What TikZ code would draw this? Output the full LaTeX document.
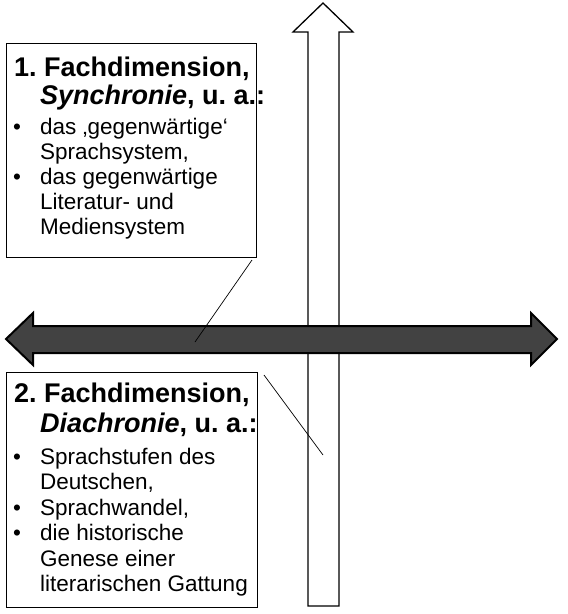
\documentclass[tikz,border=0pt]{standalone}
\usepackage{fontspec}
\setmainfont{Liberation Sans}
\frenchspacing
\definecolor{darkfill}{RGB}{66,66,66}
\tikzset{
  box/.style={draw=black, line width=1pt, fill=white, anchor=north west, inner sep=0pt, outer sep=0pt},
  ttl/.style={anchor=base west, inner sep=0pt, font=\fontsize{27}{30}\selectfont\bfseries},
  bod/.style={anchor=base west, inner sep=0pt, font=\fontsize{22.5}{25}\selectfont},
  leader/.style={draw=black, line width=0.7pt},
  uparrow/.style={draw=black, line width=1.3pt, fill=white, line join=miter},
  dblarrow/.style={draw=black, line width=2pt, fill=darkfill, line join=miter}
}
\begin{document}
\begin{tikzpicture}[x=1pt,y=-1pt]
\useasboundingbox (0,0) rectangle (568,614);
% vertical arrow
\path[uparrow] (323,3) -- (353,32) -- (339,32) -- (339,606) -- (308,606) -- (308,32) -- (293,32) -- cycle;
% horizontal double arrow
\path[dblarrow] (6,339) -- (33,313) -- (33,326) -- (531,326) -- (531,313) -- (557,339) -- (531,365) -- (531,353) -- (33,353) -- (33,365) -- cycle;
% box 1
\node[box, minimum width=250pt, minimum height=214pt] (box1) at (6,43) {};
\node[ttl] (t1a) at (14,76) {1. Fachdimension,};
\node[ttl] (t1b) at (40,104) {\textit{Synchronie}, u. a.:};
\node[bod] (d1a) at (13,134) {•};
\node[bod] (l1a) at (40,134) {das ‚gegenwärtige‘};
\node[bod] (l1b) at (40,159) {Sprachsystem,};
\node[bod] (d1b) at (13,184) {•};
\node[bod] (l1c) at (40,184) {das gegenwärtige};
\node[bod] (l1d) at (40,209) {Literatur- und};
\node[bod] (l1e) at (40,234) {Mediensystem};
% box 2
\node[box, minimum width=251pt, minimum height=235pt] (box2) at (6,372) {};
\node[ttl] (t2a) at (14,402) {2. Fachdimension,};
\node[ttl] (t2b) at (40,432) {\textit{Diachronie}, u. a.:};
\node[bod] (d2a) at (13,464) {•};
\node[bod] (l2a) at (40,464) {Sprachstufen des};
\node[bod] (l2b) at (40,489) {Deutschen,};
\node[bod] (d2b) at (13,515) {•};
\node[bod] (l2c) at (40,515) {Sprachwandel,};
\node[bod] (d2c) at (13,540) {•};
\node[bod] (l2d) at (40,540) {die historische};
\node[bod] (l2e) at (40,566) {Genese einer};
\node[bod] (l2f) at (40,591) {literarischen Gattung};
% leader lines
\coordinate (c1s) at (252,260);
\coordinate (c1e) at (195,342);
\coordinate (c2s) at (264,375);
\coordinate (c2e) at (323,455);
\draw[leader] (c1s) -- (c1e);
\draw[leader] (c2s) -- (c2e);
\end{tikzpicture}
\end{document}
